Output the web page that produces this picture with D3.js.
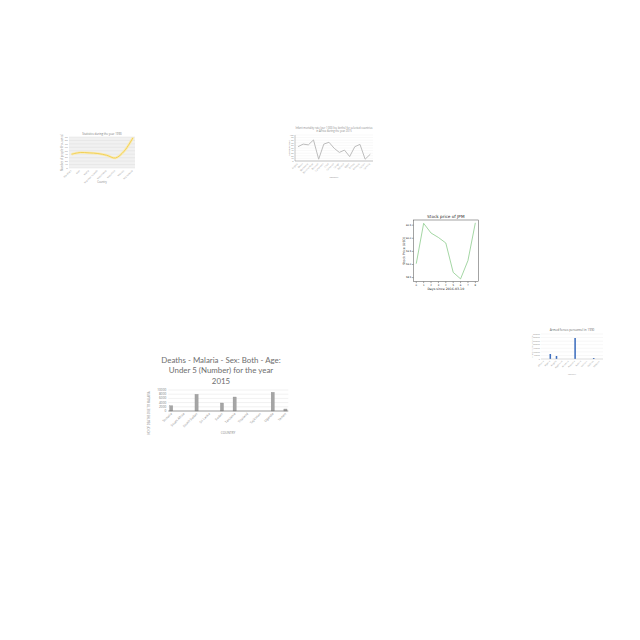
<!DOCTYPE html>
<html><head><meta charset="utf-8">
<script src="https://cdn.jsdelivr.net/npm/d3@7"></script>
<style>html,body{margin:0;padding:0;background:#fff;} svg{display:block;}</style>
</head><body>
<svg id="c" width="640" height="640"></svg>
<script>
// ---- Chart 1: yellow line ----
const c1Categories = ["Maldives","Mali","Malta","Marshall Islands","Mauritania","Mauritius","Mexico","Micronesia"];
const c1Values = [40, 45, 44, 42, 37, 29, 49, 88];
const c1Ticks = [0,10,20,30,40,50,60,70,80,90];
// ---- Chart 2: grey line ----
const c2Categories = ["Angola","Benin","Botswana","Burkina Faso","Burundi","Cameroon","Chad","Comoros","Congo","Djibouti","Egypt","Eritrea","Ethiopia","Gabon","Gambia"];
const c2Values = [55, 65, 62, 81, 7, 65, 72, 49, 33, 42, 17, 55, 64, 7, 26];
const c2Ticks = [0,10,20,30,40,50,60,70,80,90,100];
// ---- Chart 3: stock price ----
const c3Days = [0,1,2,3,4,5,6,7,8];
const c3Prices = [59.03, 60.57, 60.2, 60.03, 59.82, 58.70, 58.45, 59.15, 60.59];
const c3YTicks = [58.5, 59.0, 59.5, 60.0, 60.5];
// ---- Chart 4: blue bars ----
const c4Categories = ["Albania","Algeria","Angola","Argentina","Armenia","Australia","Austria","Bahrain","Belarus","Belgium"];
const c4Values = [0, 70000, 42000, 0, 0, 294000, 0, 0, 14000, 0];
const c4Ticks = [0,50000,100000,150000,200000,250000,300000,350000];
// ---- Chart 5: malaria deaths ----
const c5Countries = ["Somalia","South Africa","South Sudan","Sri Lanka","Sudan","Tanzania","Thailand","Tajikistan","Uganda","Yemen"];
const c5Deaths = [2524, 0, 7952, 0, 3810, 6667, 0, 0, 8905, 952];
const c5Ticks = [0,2000,4000,6000,8000,10000];

const svg = d3.select("#c");
svg.append("rect").attr("width",640).attr("height",640).attr("fill","#fff");
const sans = "Open Sans, Liberation Sans, sans-serif";

function rotLabels(g, xs, cats, y, size, color){
  g.selectAll(null).data(cats).enter().append("text")
    .attr("transform",(d)=>`translate(${xs(d)},${y}) rotate(-45)`)
    .attr("text-anchor","end").attr("font-size",size).attr("font-family",sans)
    .attr("fill",color).text(d=>d);
}

// ===== Chart 1 =====
{
  const g = svg.append("g");
  const L=69,R=135,T=137,B=168;
  const x = d3.scalePoint().domain(c1Categories).range([71.5,133]);
  const y = d3.scaleLinear().domain([0,90]).range([B,T]);
  g.append("rect").attr("x",L).attr("y",T).attr("width",R-L).attr("height",B-T).attr("fill","#f1f1f1");
  g.selectAll(null).data(c1Ticks).enter().append("line")
    .attr("x1",L).attr("x2",R).attr("y1",d=>y(d)).attr("y2",d=>y(d)).attr("stroke","#dcdcdc").attr("stroke-width",0.4);
  g.selectAll(null).data(c1Ticks).enter().append("text")
    .attr("x",L-1.5).attr("y",d=>y(d)+0.8).attr("text-anchor","end").attr("font-size",2.4)
    .attr("font-family",sans).attr("fill","#888").text(d=>d);
  const line = d3.line().x((d,i)=>x(c1Categories[i])).y(d=>y(d)).curve(d3.curveCatmullRom);
  g.append("path").datum(c1Values).attr("d",line).attr("fill","none").attr("stroke","#f9ebb5").attr("stroke-width",2.6);
  g.append("path").datum(c1Values).attr("d",line).attr("fill","none").attr("stroke","#f0cd4e").attr("stroke-width",0.9);
  rotLabels(g, x, c1Categories, B+3, 2.4, "#999");
  g.append("text").attr("x",(L+R)/2).attr("y",134.5).attr("text-anchor","middle").attr("font-size",2.8)
    .attr("font-family",sans).attr("fill","#777").text("Statistics during the year 1990");
  g.append("text").attr("transform",`translate(${63},${(T+B)/2}) rotate(-90)`).attr("text-anchor","middle")
    .attr("font-size",2.6).attr("font-family",sans).attr("fill","#888").text("Number of people (thousands)");
  g.append("text").attr("x",(L+R)/2).attr("y",182.5).attr("text-anchor","middle").attr("font-size",2.6)
    .attr("font-family",sans).attr("fill","#888").text("Country");
}

// ===== Chart 2 =====
{
  const g = svg.append("g");
  const L=295,R=373,T=135,B=161;
  const x = d3.scalePoint().domain(c2Categories).range([298,370.3]);
  const y = d3.scaleLinear().domain([0,100]).range([B,T]);
  g.selectAll(null).data(c2Ticks).enter().append("line")
    .attr("x1",L).attr("x2",R).attr("y1",d=>y(d)).attr("y2",d=>y(d)).attr("stroke","#eeeeee").attr("stroke-width",0.4);
  g.append("line").attr("x1",L).attr("x2",L).attr("y1",T).attr("y2",B).attr("stroke","#888").attr("stroke-width",0.5);
  g.append("line").attr("x1",L).attr("x2",R).attr("y1",B).attr("y2",B).attr("stroke","#888").attr("stroke-width",0.5);
  g.selectAll(null).data(c2Ticks).enter().append("text")
    .attr("x",L-1.5).attr("y",d=>y(d)+0.8).attr("text-anchor","end").attr("font-size",2.2)
    .attr("font-family",sans).attr("fill","#888").text(d=>d);
  const line = d3.line().x((d,i)=>x(c2Categories[i])).y(d=>y(d));
  g.append("path").datum(c2Values).attr("d",line).attr("fill","none").attr("stroke","#bdbdbd").attr("stroke-width",1);
  rotLabels(g, x, c2Categories, B+3, 2.3, "#999");
  g.append("text").attr("x",(L+R)/2).attr("y",129.3).attr("text-anchor","middle").attr("font-size",2.6)
    .attr("font-family",sans).attr("fill","#888").text("Infant mortality rate (per 1,000 live births) for selected countries");
  g.append("text").attr("x",(L+R)/2).attr("y",132.3).attr("text-anchor","middle").attr("font-size",2.6)
    .attr("font-family",sans).attr("fill","#888").text("in Africa during the year 2015");
  g.append("text").attr("transform",`translate(${289.5},${(T+B)/2}) rotate(-90)`).attr("text-anchor","middle")
    .attr("font-size",2.4).attr("font-family",sans).attr("fill","#888").text("Mortality rate");
  g.append("text").attr("x",(L+R)/2).attr("y",178).attr("text-anchor","middle").attr("font-size",2.4)
    .attr("font-family",sans).attr("fill","#888").text("Country");
}

// ===== Chart 3 =====
{
  const g = svg.append("g");
  const L=413.3,R=478.3,T=220,B=281.7;
  const x = d3.scaleLinear().domain([-0.4,8.4]).range([L,R]);
  const y = d3.scaleLinear().domain([58.343,60.697]).range([B,T]);
  const dj = "DejaVu Sans, sans-serif";
  const line = d3.line().x((d,i)=>x(c3Days[i])).y(d=>y(d));
  g.append("path").datum(c3Prices).attr("d",line).attr("fill","none").attr("stroke","#7cc47c").attr("stroke-width",0.7);
  g.append("rect").attr("x",L).attr("y",T).attr("width",R-L).attr("height",B-T).attr("fill","none").attr("stroke","#333").attr("stroke-width",0.45);
  g.selectAll(null).data(c3Days).enter().append("line")
    .attr("x1",d=>x(d)).attr("x2",d=>x(d)).attr("y1",B).attr("y2",B+1.4).attr("stroke","#222").attr("stroke-width",0.4);
  g.selectAll(null).data(c3Days).enter().append("text")
    .attr("x",d=>x(d)).attr("y",B+4).attr("text-anchor","middle").attr("font-size",2.4).attr("font-family",dj).attr("fill","#222").text(d=>d);
  g.selectAll(null).data(c3YTicks).enter().append("line")
    .attr("x1",L-1.4).attr("x2",L).attr("y1",d=>y(d)).attr("y2",d=>y(d)).attr("stroke","#222").attr("stroke-width",0.4);
  g.selectAll(null).data(c3YTicks).enter().append("text")
    .attr("x",L-2).attr("y",d=>y(d)+0.8).attr("text-anchor","end").attr("font-size",2.4).attr("font-family",dj).attr("fill","#222").text(d=>d.toFixed(1));
  g.append("text").attr("x",(L+R)/2).attr("y",217.5).attr("text-anchor","middle").attr("font-size",4.2)
    .attr("font-family",dj).attr("fill","#222").text("Stock price of JPM");
  g.append("text").attr("transform",`translate(${404.5},${(T+B)/2}) rotate(-90)`).attr("text-anchor","middle")
    .attr("font-size",3.2).attr("font-family",dj).attr("fill","#222").text("Stock Price (USD)");
  g.append("text").attr("x",(L+R)/2).attr("y",290).attr("text-anchor","middle").attr("font-size",3.2)
    .attr("font-family",dj).attr("fill","#222").text("Days since 2016-03-10");
}

// ===== Chart 4 =====
{
  const g = svg.append("g");
  const L=541,R=603,T=334,B=359;
  const x = d3.scaleBand().domain(c4Categories).range([L,R]).paddingInner(0.75).paddingOuter(0.375);
  const y = d3.scaleLinear().domain([0,350000]).range([B,T]);
  g.selectAll(null).data(c4Ticks).enter().append("line")
    .attr("x1",L).attr("x2",R).attr("y1",d=>y(d)).attr("y2",d=>y(d)).attr("stroke","#ececec").attr("stroke-width",0.4);
  g.selectAll(null).data(c4Ticks).enter().append("text")
    .attr("x",L-1.2).attr("y",d=>y(d)+0.7).attr("text-anchor","end").attr("font-size",2)
    .attr("font-family",sans).attr("fill","#999").text(d=>d);
  g.selectAll(null).data(c4Values).enter().append("rect")
    .attr("x",(d,i)=>x(c4Categories[i])).attr("width",x.bandwidth())
    .attr("y",d=>y(d)).attr("height",d=>B-y(d)).attr("fill","#3f6fbf");
  g.append("line").attr("x1",L).attr("x2",R).attr("y1",B).attr("y2",B).attr("stroke","#bbb").attr("stroke-width",0.4);
  const xc = d=>x(d)+x.bandwidth()/2;
  g.selectAll(null).data(c4Categories).enter().append("text")
    .attr("transform",d=>`translate(${xc(d)},${B+2.5}) rotate(-45)`)
    .attr("text-anchor","end").attr("font-size",2.2).attr("font-family",sans).attr("fill","#999").text(d=>d);
  g.append("text").attr("x",(L+R)/2).attr("y",331).attr("text-anchor","middle").attr("font-size",3)
    .attr("font-family",sans).attr("fill","#666").text("Armed forces personnel in 1990");
  g.append("text").attr("transform",`translate(${532.5},${(T+B)/2}) rotate(-90)`).attr("text-anchor","middle")
    .attr("font-size",2).attr("font-family",sans).attr("fill","#999").text("Armed forces personnel");
  g.append("text").attr("x",(L+R)/2).attr("y",375).attr("text-anchor","middle").attr("font-size",2.2)
    .attr("font-family",sans).attr("fill","#999").text("Country");
}

// ===== Chart 5 =====
{
  const g = svg.append("g");
  const L=168.3,R=288.3,T=390,B=411;
  const x = d3.scaleBand().domain(c5Countries).range([L,R]).paddingInner(0.75).paddingOuter(0.1);
  const y = d3.scaleLinear().domain([0,10000]).range([B,T]);
  g.selectAll(null).data(c5Ticks).enter().append("line")
    .attr("x1",L).attr("x2",R).attr("y1",d=>y(d)).attr("y2",d=>y(d)).attr("stroke","#e2e2e2").attr("stroke-width",0.5);
  g.selectAll(null).data(c5Ticks).enter().append("text")
    .attr("x",L-2).attr("y",d=>y(d)+1).attr("text-anchor","end").attr("font-size",3.2)
    .attr("font-family",sans).attr("fill","#777").text(d=>d);
  g.selectAll(null).data(c5Deaths).enter().append("rect")
    .attr("x",(d,i)=>x(c5Countries[i])).attr("width",x.bandwidth())
    .attr("y",d=>y(d)).attr("height",d=>B-y(d)).attr("fill","#a5a5a5").attr("stroke","#8a8a8a").attr("stroke-width",0.3);
  g.append("line").attr("x1",L).attr("x2",R).attr("y1",B).attr("y2",B).attr("stroke","#666").attr("stroke-width",0.6);
  const xc = d=>x(d)+x.bandwidth()/2;
  g.selectAll(null).data(c5Countries).enter().append("text")
    .attr("transform",d=>`translate(${xc(d)+1},${B+3}) rotate(-45)`)
    .attr("text-anchor","end").attr("font-size",3.2).attr("font-family",sans).attr("fill","#888").text(d=>d);
  const title = ["Deaths - Malaria - Sex: Both - Age:","Under 5 (Number) for the year","2015"];
  g.selectAll(null).data(title).enter().append("text")
    .attr("x",221).attr("y",(d,i)=>362.8+i*10.4).attr("text-anchor","middle").attr("font-size",7.9)
    .attr("font-family","Lato, Open Sans, sans-serif").attr("fill","#6e6e6e").text(d=>d);
  g.append("text").attr("transform",`translate(${150},${413}) rotate(-90)`).attr("text-anchor","middle")
    .attr("font-size",2.8).attr("font-family",sans).attr("fill","#888").text("NO OF DEATHS DUE TO MALARIA");
  g.append("text").attr("x",228).attr("y",434).attr("text-anchor","middle").attr("font-size",3.2)
    .attr("font-family",sans).attr("fill","#888").text("COUNTRY");
}
</script>
</body></html>
